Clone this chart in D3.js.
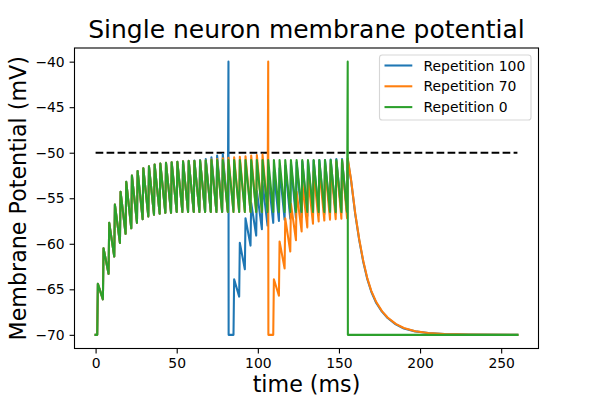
<!DOCTYPE html>
<html>
<head>
<meta charset="utf-8">
<title>Single neuron membrane potential</title>
<style>
  body { margin: 0; background: #fff; }
  svg { display: block; font-family: "DejaVu Sans", sans-serif; }
</style>
</head>
<body>
<svg width="598" height="399"></svg>
<script src="https://d3js.org/d3.v7.min.js"></script>
<script>

// times of the input pulses (ms)
var inputTimes = [1, 4.5, 8, 11.5, 15, 18.5, 22, 25.5, 29, 32.5,
                  36, 39.5, 43, 46.5, 50, 53.5, 57, 60.5, 64, 67.5,
                  71, 74.5, 78, 81.5, 85, 88.5, 92, 95.5, 99, 102.5,
                  106, 109.5, 113, 116.5, 120, 123.5, 127, 130.5, 134, 137.5,
                  141, 144.5, 148, 151.5, 155];

// membrane potential just before / just after each pulse (mV), -40 = spike
var greenBefore = [-70, -66.1, -63.3, -61.4, -59.9, -58.9, -58.3, -57.7, -57.3, -57.0,
                   -56.8, -56.7, -56.6, -56.6, -56.5, -56.5, -56.5, -56.5, -56.5, -56.5,
                   -56.5, -56.5, -56.5, -56.5, -56.5, -56.5, -56.5, -56.5, -56.5, -56.5,
                   -56.5, -56.5, -56.5, -56.5, -56.5, -56.5, -56.5, -56.5, -56.5, -56.5,
                   -56.5, -56.5, -56.5, -56.5, -56.5];
var greenAfter = [-64.4, -60.5, -57.7, -55.7, -54.3, -53.2, -52.5, -52.0, -51.7, -51.5,
                  -51.3, -51.2, -51.1, -51.05, -51.0, -50.95, -50.9, -50.9, -50.85, -50.85,
                  -50.8, -50.8, -50.8, -50.8, -50.8, -50.8, -50.8, -50.8, -50.8, -50.8,
                  -50.8, -50.8, -50.8, -50.8, -50.8, -50.8, -50.8, -50.8, -50.8, -50.8,
                  -50.8, -50.8, -50.8, -50.8, -40];

var orangeBefore = [-70, -66.1, -63.3, -61.4, -59.9, -58.9, -58.3, -57.7, -57.3, -57.0,
                    -56.8, -56.7, -56.6, -56.6, -56.5, -56.5, -56.5, -56.5, -56.5, -56.5,
                    -56.5, -56.5, -56.5, -56.5, -56.5, -56.5, -56.5, -56.5, -56.5, -56.5,
                    -56.45, -70, -65.7, -62.7, -60.85, -59.6, -58.65, -58.2, -57.8, -57.55,
                    -57.45, -57.35, -57.3, -57.25, -57.2];
var orangeAfter = [-64.4, -60.5, -57.7, -55.7, -54.3, -53.2, -52.5, -52.0, -51.7, -51.5,
                   -51.3, -51.2, -51.1, -51.05, -51.0, -50.95, -50.9, -50.9, -50.85, -50.85,
                   -50.75, -50.7, -50.6, -50.55, -50.5, -50.45, -50.4, -50.3, -50.25, -50.2,
                   -40, -63.9, -59.75, -57.2, -55.6, -54.3, -53.3, -52.6, -52.1, -51.7,
                   -51.4, -51.2, -51.0, -50.8, -50.6];

var blueBefore = [-70, -66.1, -63.3, -61.4, -59.9, -58.9, -58.3, -57.7, -57.3, -57.0,
                  -56.8, -56.7, -56.6, -56.6, -56.5, -56.5, -56.5, -56.5, -56.5, -56.5,
                  -56.5, -56.5, -56.5, -56.45, -70, -65.8, -62.8, -60.2, -59.1, -58.4,
                  -58.0, -57.7, -57.5, -57.35, -57.25, -57.15, -57.05, -56.95, -56.85, -56.8,
                  -56.75, -56.7, -56.65, -56.6, -56.6];
var blueAfter = [-64.4, -60.5, -57.7, -55.7, -54.3, -53.2, -52.5, -52.0, -51.7, -51.5,
                 -51.3, -51.2, -51.1, -51.05, -51.0, -50.95, -50.9, -50.85, -50.8, -50.7,
                 -50.5, -50.3, -50.15, -40, -63.9, -59.9, -57.2, -55.5, -54.2, -53.3,
                 -52.6, -52.1, -51.7, -51.4, -51.2, -51.05, -50.95, -50.9, -50.85, -50.8,
                 -50.8, -50.75, -50.7, -50.7, -50.7];

// after the last pulse (ms / mV)
var tailTimes  = [157.5, 160, 162.5, 165, 167.5, 170, 173, 176.5, 180, 185, 190, 197, 205, 215, 230, 260];
var orangeTail = [-53.0, -56.6, -59.5, -61.9, -63.8, -65.2, -66.4, -67.4, -68.1, -68.8, -69.25, -69.6, -69.8, -69.92, -69.98, -70];
var blueTail   = [-53.1, -56.7, -59.6, -62.0, -63.9, -65.3, -66.5, -67.45, -68.15, -68.85, -69.3, -69.62, -69.8, -69.92, -69.98, -70];
var greenTail  = [-70, -70, -70, -70, -70, -70, -70, -70, -70, -70, -70, -70, -70, -70, -70, -70];

var restV = -70, spikeV = -40, threshold = -50;
var thresholdRange = [0, 260];
var xTicks = [0, 50, 100, 150, 200, 250];
var yTicks = [-70, -65, -60, -55, -50, -45, -40];

var seriesNames = ["Repetition 100", "Repetition 70", "Repetition 0"];
var seriesColors = ["#1f77b4", "#ff7f0e", "#2ca02c"];

var svg = d3.select("svg"),
    plotL = 74.5, plotR = 538.5, plotT = 48, plotB = 348.5;

var x = d3.scaleLinear().domain([-13, 273]).range([plotL, plotR]);
var y = d3.scaleLinear().domain([-71.5, -38.5]).range([plotB, plotT]);

function buildTrace(before, after, tail) {
  var pts = [[0, restV]];
  inputTimes.forEach(function(t, i) {
    pts.push([t, before[i]]);
    pts.push([t + 0.4, after[i]]);
    if (after[i] >= spikeV - 0.5) pts.push([t + 0.5, restV]);   // reset after spike
  });
  tailTimes.forEach(function(t, i) { pts.push([t, tail[i]]); });
  return pts;
}

var traces = [
  buildTrace(blueBefore, blueAfter, blueTail),
  buildTrace(orangeBefore, orangeAfter, orangeTail),
  buildTrace(greenBefore, greenAfter, greenTail)
];

var line = d3.line()
    .x(function(d) { return x(d[0]); })
    .y(function(d) { return y(d[1]); });

svg.append("clipPath").attr("id", "plotclip")
  .append("rect").attr("x", plotL).attr("y", plotT)
  .attr("width", plotR - plotL).attr("height", plotB - plotT);

var plot = svg.append("g").attr("clip-path", "url(#plotclip)");

// threshold
plot.append("line")
    .attr("x1", x(thresholdRange[0])).attr("x2", x(thresholdRange[1]))
    .attr("y1", y(threshold)).attr("y2", y(threshold))
    .attr("stroke", "#000")
    .attr("stroke-width", 2.08)
    .attr("stroke-dasharray", "7.7,3.3");

plot.selectAll("path.trace")
  .data(traces)
  .enter().append("path")
    .attr("class", "trace")
    .attr("d", line)
    .attr("fill", "none")
    .attr("stroke", function(d, i) { return seriesColors[i]; })
    .attr("stroke-width", 2.08)
    .attr("stroke-linejoin", "round")
    .attr("stroke-linecap", "square");

// axes
var xAxis = svg.append("g")
    .attr("transform", "translate(0," + plotB + ")")
    .call(d3.axisBottom(x).tickValues(xTicks).tickSize(4.9).tickPadding(4.6).tickFormat(d3.format("d")));
var yAxis = svg.append("g")
    .attr("transform", "translate(" + plotL + ",0)")
    .call(d3.axisLeft(y).tickValues(yTicks).tickSize(4.9).tickPadding(4.9).tickFormat(d3.format("d")));

[xAxis, yAxis].forEach(function(a) {
  a.select(".domain").remove();
  a.selectAll(".tick line").attr("stroke", "#000").attr("stroke-width", 1.1);
  a.selectAll(".tick text").attr("fill", "#000")
    .style("font-family", "DejaVu Sans").style("font-size", "13.9px");
});

svg.append("rect")
    .attr("x", plotL).attr("y", plotT)
    .attr("width", plotR - plotL).attr("height", plotB - plotT)
    .attr("fill", "none").attr("stroke", "#000").attr("stroke-width", 1.1);

// labels
svg.append("text")
    .attr("x", (plotL + plotR) / 2).attr("y", 38)
    .attr("text-anchor", "middle")
    .style("font-size", "25px")
    .text("Single neuron membrane potential");

svg.append("text")
    .attr("x", (plotL + plotR) / 2).attr("y", 392)
    .attr("text-anchor", "middle")
    .style("font-size", "22.2px")
    .text("time (ms)");

svg.append("text")
    .attr("transform", "translate(26," + (plotT + plotB) / 2 + ") rotate(-90)")
    .attr("text-anchor", "middle")
    .style("font-size", "22.2px")
    .text("Membrane Potential (mV)");

// legend
var legend = svg.append("g");
legend.append("rect")
    .attr("x", 379.5).attr("y", 55)
    .attr("width", 151.5).attr("height", 65)
    .attr("rx", 2.8)
    .attr("fill", "#fff").attr("fill-opacity", 0.8)
    .attr("stroke", "#cccccc").attr("stroke-opacity", 0.8).attr("stroke-width", 1.1);

var rows = legend.selectAll("g.row")
  .data(seriesNames)
  .enter().append("g")
    .attr("transform", function(d, i) { return "translate(0," + (65.5 + i * 20.8) + ")"; });
rows.append("line")
    .attr("x1", 384.5).attr("x2", 412.3)
    .attr("stroke", function(d, i) { return seriesColors[i]; })
    .attr("stroke-width", 2.08);
rows.append("text")
    .attr("x", 423.5).attr("y", 5)
    .style("font-size", "13.9px")
    .text(function(d) { return d; });

</script>
</body>
</html>
